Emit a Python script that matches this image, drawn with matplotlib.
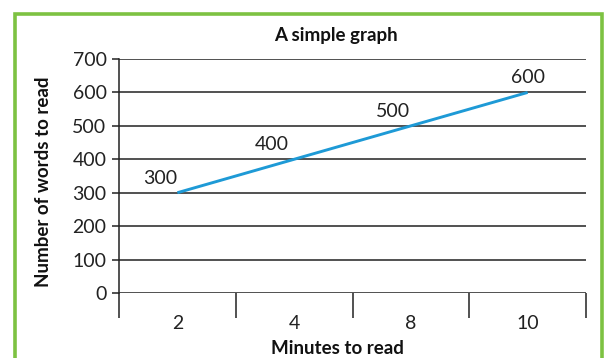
import matplotlib
matplotlib.use("Agg")
import matplotlib.pyplot as plt
from matplotlib.patches import Rectangle
from matplotlib.ticker import FixedLocator, NullFormatter

categories = ["2", "4", "8", "10"]
words = [300, 400, 500, 600]
y_ticks = [0, 100, 200, 300, 400, 500, 600, 700]
label_offsets = [(-17, 6), (-22, 6), (-18, 6), (0, 6)]

plt.rcParams['font.family'] = ['Lato', 'DejaVu Sans']

fig = plt.figure(figsize=(6.08, 3.58), dpi=100)
fig.patches.append(Rectangle((14.5 / 608, -0.05), 587 / 608, 1 - 13.5 / 358 + 0.05,
                             transform=fig.transFigure, fill=False,
                             edgecolor="#7dc242", linewidth=2.6))

ax = fig.add_axes([119 / 608, 65 / 358, 467 / 608, 234 / 358])
x = list(range(len(categories)))
ax.plot(x, words, color="#1e9ad6", linewidth=2.1, solid_capstyle="butt")
for xi, v, off in zip(x, words, label_offsets):
    ax.annotate(str(v), (xi, v), xytext=off, textcoords="offset pixels",
                ha="center", va="bottom", fontsize=14, color="#222222")

ax.set_xlim(-0.5, len(categories) - 0.5)
ax.set_ylim(0, 700)
ax.set_yticks(y_ticks)
for yv in y_ticks:
    ax.axhline(yv, color="#222222", linewidth=1.1, zorder=0)

ax.set_xticks(x)
ax.set_xticklabels(categories)
ax.xaxis.set_minor_locator(FixedLocator([i - 0.5 for i in range(len(categories) + 1)]))
ax.xaxis.set_minor_formatter(NullFormatter())
ax.tick_params(axis="x", which="major", length=0, pad=15.5, labelsize=14, labelcolor="#222222")
ax.tick_params(axis="x", which="minor", length=18, width=1.1, color="#222222")
ax.tick_params(axis="y", length=5, width=1.1, color="#222222", pad=4,
               labelsize=14, labelcolor="#222222")

for s in ["top", "right", "bottom"]:
    ax.spines[s].set_visible(False)
ax.spines["left"].set_color("#222222")
ax.spines["left"].set_linewidth(1.1)

fig.text(336 / 608, 1 - 36 / 358, "A simple graph", ha="center", va="center",
         fontsize=13.5, fontweight="bold", color="#111111")
fig.text(337 / 608, 1 - 349 / 358, "Minutes to read", ha="center", va="center",
         fontsize=13.5, fontweight="bold", color="#111111")
fig.text(44 / 608, 1 - 182 / 358, "Number of words to read", ha="center", va="center",
         rotation=90, fontsize=13.5, fontweight="bold", color="#111111")

fig.savefig("out.png", dpi=100)
